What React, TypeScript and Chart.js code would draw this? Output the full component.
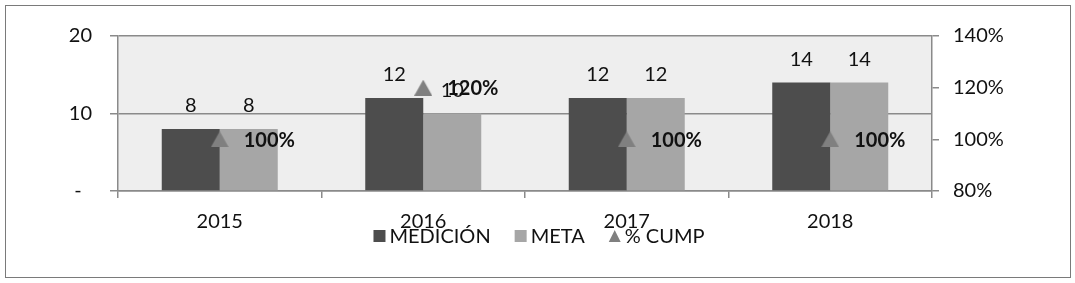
import React, { useEffect, useRef } from "react";
import { Chart, registerables } from "chart.js";

Chart.register(...registerables);

const categories = ["2015", "2016", "2017", "2018"];
const medicion = [8, 12, 12, 14];
const meta = [8, 10, 12, 14];
const cump = [1.0, 1.2, 1.0, 1.0];
const seriesNames = ["MEDICIÓN", "META", "% CUMP"];

const FONT = "Lato, 'Open Sans', sans-serif";
const DARK = "#4d4d4d";
const LIGHT = "#a6a6a6";
const TRI = "#808080";
const GRID = "#8a8a8a";
const TEXT = "#111111";

function makeTriangle(w: number, h: number, color: string) {
  const c = document.createElement("canvas");
  c.width = w;
  c.height = h;
  const ctx = c.getContext("2d")!;
  ctx.fillStyle = color;
  ctx.beginPath();
  ctx.moveTo(0, h);
  ctx.lineTo(w / 2, 0);
  ctx.lineTo(w, h);
  ctx.closePath();
  ctx.fill();
  return c;
}

export default function App() {
  const ref = useRef<HTMLCanvasElement | null>(null);

  useEffect(() => {
    if (!ref.current) return;
    const tri = makeTriangle(18, 16, TRI);

    const bgPlugin = {
      id: "plotBg",
      beforeDraw(chart: any) {
        const { ctx, chartArea } = chart;
        ctx.save();
        ctx.fillStyle = "#eeeeee";
        ctx.fillRect(chartArea.left, chartArea.top, chartArea.right - chartArea.left, chartArea.bottom - chartArea.top);
        ctx.restore();
      },
    };

    const labelPlugin = {
      id: "valueLabels",
      afterDatasetsDraw(chart: any) {
        const { ctx } = chart;
        ctx.save();
        ctx.fillStyle = TEXT;
        ctx.textBaseline = "middle";
        chart.data.datasets.forEach((ds: any, di: number) => {
          const meta = chart.getDatasetMeta(di);
          meta.data.forEach((el: any, i: number) => {
            const v = ds.data[i];
            if (ds.type === "line") {
              ctx.font = `bold 20px ${FONT}`;
              ctx.textAlign = "left";
              ctx.fillText(Math.round(v * 100) + "%", el.x + 24, el.y + 1);
            } else {
              ctx.font = `20px ${FONT}`;
              ctx.textAlign = "center";
              ctx.fillText(String(v), el.x, el.y - 23);
            }
          });
        });
        ctx.restore();
      },
    };

    const legendPlugin = {
      id: "customLegend",
      afterDraw(chart: any) {
        const { ctx } = chart;
        ctx.save();
        ctx.font = `20px ${FONT}`;
        ctx.textBaseline = "middle";
        ctx.textAlign = "left";
        const marker = 12;
        const gap = 4;
        const itemGap = 24;
        const widths = seriesNames.map((n) => ctx.measureText(n).width);
        const total = widths.reduce((a, b) => a + b, 0) + seriesNames.length * (marker + gap) + itemGap * (seriesNames.length - 1);
        let x = 539 - total / 2;
        const y = 236;
        seriesNames.forEach((n, i) => {
          if (i < 2) {
            ctx.fillStyle = i === 0 ? DARK : LIGHT;
            ctx.fillRect(x, y - 6, marker, marker);
          } else {
            ctx.fillStyle = TRI;
            ctx.beginPath();
            ctx.moveTo(x, y + 6);
            ctx.lineTo(x + marker / 2, y - 6);
            ctx.lineTo(x + marker, y + 6);
            ctx.closePath();
            ctx.fill();
          }
          x += marker + gap;
          ctx.fillStyle = TEXT;
          ctx.fillText(n, x, y + 1);
          x += widths[i] + itemGap;
        });
        ctx.restore();
      },
    };

    const chart = new Chart(ref.current, {
      type: "bar",
      data: {
        labels: categories,
        datasets: [
          {
            type: "line",
            label: seriesNames[2],
            data: cump,
            yAxisID: "y1",
            showLine: false,
            pointStyle: tri as any,
            pointRadius: 9,
            backgroundColor: TRI,
            borderColor: TRI,
            order: 0,
          } as any,
          {
            type: "bar",
            label: seriesNames[0],
            data: medicion,
            yAxisID: "y",
            backgroundColor: DARK,
            categoryPercentage: 0.57,
            barPercentage: 1,
            order: 1,
          },
          {
            type: "bar",
            label: seriesNames[1],
            data: meta,
            yAxisID: "y",
            backgroundColor: LIGHT,
            categoryPercentage: 0.57,
            barPercentage: 1,
            order: 1,
          },
        ],
      },
      plugins: [bgPlugin, labelPlugin, legendPlugin],
      options: {
        animation: false,
        responsive: false,
        devicePixelRatio: 1,
        layout: { padding: { top: 36, left: 0, right: 0, bottom: 0 } },
        plugins: {
          legend: { display: false },
          tooltip: { enabled: false },
          title: { display: false },
        },
        scales: {
          x: {
            type: "category",
            offset: true,
            grid: { offset: true, drawOnChartArea: false, drawTicks: true, tickLength: 7, color: GRID, lineWidth: 1.5 },
            border: { display: true, color: GRID, width: 1.5 },
            ticks: { font: { family: FONT, size: 20 }, color: TEXT, padding: 12, maxRotation: 0 },
            afterFit(scale: any) {
              scale.height = 92;
            },
          },
          y: {
            position: "left",
            min: 0,
            max: 20,
            ticks: {
              stepSize: 10,
              font: { family: FONT, size: 20 },
              color: TEXT,
              padding: 18,
              callback: (v: any) => (Number(v) === 0 ? "-  " : String(v)),
            },
            grid: { color: GRID, lineWidth: 1.5, tickLength: 8 },
            border: { display: true, color: GRID, width: 1.5 },
            afterFit(scale: any) {
              scale.width = 118;
            },
          },
          y1: {
            position: "right",
            min: 0.8,
            max: 1.4,
            ticks: {
              stepSize: 0.2,
              font: { family: FONT, size: 20 },
              color: TEXT,
              padding: 14,
              callback: (v: any) => Math.round(Number(v) * 100) + "%",
            },
            grid: { drawOnChartArea: false, color: GRID, lineWidth: 1.5, tickLength: 7 },
            border: { display: true, color: GRID, width: 1.5 },
            afterFit(scale: any) {
              scale.width = 143;
            },
          },
        },
      } as any,
    });

    return () => chart.destroy();
  }, []);

  return (
    <div style={{ position: "fixed", left: 0, top: 0, width: 1075, height: 283, background: "#fff" }}>
      <canvas ref={ref} width={1075} height={283} style={{ display: "block", width: 1075, height: 283 }} />
      <div
        style={{
          position: "absolute",
          left: 5,
          top: 5,
          width: 1064,
          height: 271,
          border: "1px solid #7a7a7a",
          pointerEvents: "none",
        }}
      />
    </div>
  );
}
